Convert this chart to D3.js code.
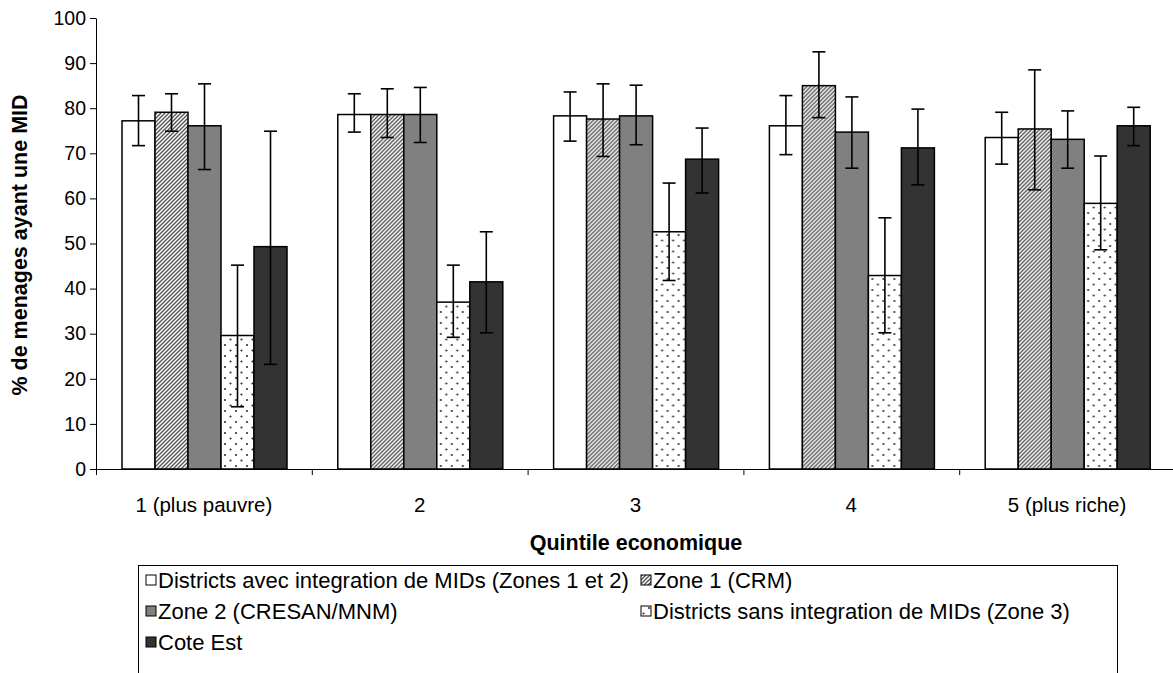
<!DOCTYPE html>
<html>
<head>
<meta charset="utf-8">
<script src="https://cdn.jsdelivr.net/npm/d3@7"></script>
<style>
  body { margin: 0; background: #fff; }
  text { font-family: "Liberation Sans", Arial, sans-serif; fill: #000; }
</style>
</head>
<body>
<svg id="chart"></svg>
<script>
// quintiles
var categories = ["1 (plus pauvre)", "2", "3", "4", "5 (plus riche)"];
var seriesNames = [
  "Districts avec integration de MIDs (Zones 1 et 2)",
  "Zone 1 (CRM)",
  "Zone 2 (CRESAN/MNM)",
  "Districts sans integration de MIDs (Zone 3)",
  "Cote Est"
];
var yTicks = [0, 10, 20, 30, 40, 50, 60, 70, 80, 90, 100];

// % de menages, one array per series
var valAvec   = [77.2, 78.6, 78.3, 76.1, 73.5];
var valZone1  = [79.1, 78.6, 77.6, 85.0, 75.4];
var valZone2  = [76.1, 78.6, 78.3, 74.7, 73.1];
var valSans   = [29.6, 37.0, 52.6, 42.9, 58.9];
var valCote   = [49.3, 41.5, 68.7, 71.2, 76.1];

// error bars (upper / lower)
var hiAvec  = [82.8, 83.2, 83.6, 82.8, 79.1];
var loAvec  = [71.7, 74.7, 72.7, 69.7, 67.6];
var hiZone1 = [83.2, 84.3, 85.4, 92.5, 88.5];
var loZone1 = [74.9, 73.5, 69.3, 77.9, 61.9];
var hiZone2 = [85.4, 84.6, 85.1, 82.5, 79.4];
var loZone2 = [66.4, 72.4, 71.9, 66.7, 66.7];
var hiSans  = [45.2, 45.2, 63.4, 55.7, 69.4];
var loSans  = [13.8, 29.2, 41.8, 30.2, 48.6];
var hiCote  = [74.9, 52.6, 75.6, 79.8, 80.2];
var loCote  = [23.2, 30.2, 61.2, 63.0, 71.7];

var allVals = [valAvec, valZone1, valZone2, valSans, valCote];
var allHi = [hiAvec, hiZone1, hiZone2, hiSans, hiCote];
var allLo = [loAvec, loZone1, loZone2, loSans, loCote];
var fills = ["#ffffff", "url(#hatch)", "#808080", "url(#dots)", "#333333"];

var W = 1173, H = 673;
var margin = {top: 18, left: 96, right: -2, bottom: 204};
var plotW = W - margin.left - margin.right,
    plotH = H - margin.top - margin.bottom;

var svg = d3.select("#chart").attr("width", W).attr("height", H);

var defs = svg.append("defs");
var hatch = defs.append("pattern")
  .attr("id", "hatch").attr("patternUnits", "userSpaceOnUse")
  .attr("width", 4).attr("height", 4);
hatch.append("rect").attr("width", 4).attr("height", 4).attr("fill", "#fff");
hatch.append("path").attr("d", "M-1,1 l2,-2 M0,4 l4,-4 M3,5 l2,-2")
  .attr("stroke", "#555").attr("stroke-width", 1.4);

// staggered dots
var dots = defs.append("pattern")
  .attr("id", "dots").attr("patternUnits", "userSpaceOnUse")
  .attr("width", 11).attr("height", 11);
dots.append("rect").attr("width", 11).attr("height", 11).attr("fill", "#fff");
dots.append("circle").attr("cx", 2.5).attr("cy", 2.5).attr("r", 1.1).attr("fill", "#333");
dots.append("circle").attr("cx", 8).attr("cy", 8).attr("r", 1.1).attr("fill", "#333");

var g = svg.append("g")
  .attr("transform", "translate(" + margin.left + "," + margin.top + ")");

var x0 = d3.scaleBand().domain(categories).range([0, plotW]).padding(0);
var x1 = d3.scaleBand().domain(d3.range(seriesNames.length))
  .range([26, 26 + 165]).padding(0);
var y = d3.scaleLinear().domain([0, 100]).range([plotH, 0]);

// bars
var groups = g.selectAll(".grp")
  .data(categories)
  .enter().append("g")
  .attr("class", "grp")
  .attr("transform", function (d) { return "translate(" + x0(d) + ",0)"; });

groups.each(function (cat, ci) {
  var grp = d3.select(this);
  var rows = seriesNames.map(function (s, si) {
    return {si: si, v: allVals[si][ci], hi: allHi[si][ci], lo: allLo[si][ci]};
  });

  grp.selectAll("rect")
    .data(rows)
    .enter().append("rect")
    .attr("x", function (d) { return x1(d.si); })
    .attr("y", function (d) { return y(d.v); })
    .attr("width", x1.bandwidth())
    .attr("height", function (d) { return y(0) - y(d.v); })
    .attr("fill", function (d) { return fills[d.si]; })
    .attr("stroke", "#000")
    .attr("stroke-width", 1.5);

  var eb = grp.selectAll(".err")
    .data(rows)
    .enter().append("g")
    .attr("class", "err")
    .attr("stroke", "#000")
    .attr("stroke-width", 1.6);
  eb.append("line")
    .attr("x1", function (d) { return x1(d.si) + x1.bandwidth() / 2; })
    .attr("x2", function (d) { return x1(d.si) + x1.bandwidth() / 2; })
    .attr("y1", function (d) { return y(d.hi); })
    .attr("y2", function (d) { return y(d.lo); });
  [ "hi", "lo" ].forEach(function (k) {
    eb.append("line")
      .attr("x1", function (d) { return x1(d.si) + x1.bandwidth() / 2 - 6.5; })
      .attr("x2", function (d) { return x1(d.si) + x1.bandwidth() / 2 + 6.5; })
      .attr("y1", function (d) { return y(d[k]); })
      .attr("y2", function (d) { return y(d[k]); });
  });
});

// y axis
var yAxis = d3.axisLeft(y).tickValues(yTicks).tickSize(6).tickSizeOuter(0).tickPadding(4);
var yg = g.append("g").call(yAxis);
yg.select(".domain").attr("stroke", "#000");
yg.selectAll(".tick line").attr("stroke", "#000");
yg.selectAll(".tick text").style("font-size", "19.5px");

// x axis: ticks at category boundaries
var xb = d3.scaleLinear().domain([0, categories.length]).range([0, plotW]);
var xAxis = d3.axisBottom(xb).tickValues(d3.range(categories.length + 1))
  .tickFormat("").tickSize(6).tickSizeOuter(0);
var xg = g.append("g").attr("transform", "translate(0," + plotH + ")").call(xAxis);
xg.select(".domain").attr("stroke", "#000");
xg.selectAll(".tick line").attr("stroke", "#000");

g.selectAll(".catlabel")
  .data(categories)
  .enter().append("text")
  .attr("class", "catlabel")
  .attr("x", function (d) { return x0(d) + x0.bandwidth() / 2; })
  .attr("y", plotH + 43)
  .attr("text-anchor", "middle")
  .style("font-size", "20.5px")
  .text(function (d) { return d; });

// axis titles
svg.append("text")
  .attr("x", 636).attr("y", 550)
  .attr("text-anchor", "middle")
  .style("font-size", "21.5px").style("font-weight", "bold")
  .text("Quintile economique");

svg.append("text")
  .attr("transform", "translate(27,245) rotate(-90)")
  .attr("text-anchor", "middle")
  .style("font-size", "21.5px").style("font-weight", "bold")
  .text("% de menages ayant une MID");

// legend
var legend = svg.append("g");
legend.append("rect")
  .attr("x", 138.5).attr("y", 565.5).attr("width", 979).attr("height", 130)
  .attr("fill", "#fff").attr("stroke", "#000").attr("stroke-width", 1);

var legPos = [[146, 580], [641, 580], [146, 611], [641, 611], [146, 642]];
var items = legend.selectAll(".leg")
  .data(seriesNames)
  .enter().append("g")
  .attr("class", "leg")
  .attr("transform", function (d, i) { return "translate(" + legPos[i][0] + "," + legPos[i][1] + ")"; });
items.append("rect")
  .attr("x", 0).attr("y", -5).attr("width", 10).attr("height", 10)
  .attr("fill", function (d, i) { return fills[i]; })
  .attr("stroke", "#000").attr("stroke-width", 1);
items.append("text")
  .attr("x", 12).attr("y", 7.5)
  .style("font-size", "22px")
  .text(function (d) { return d; });
</script>
</body>
</html>
